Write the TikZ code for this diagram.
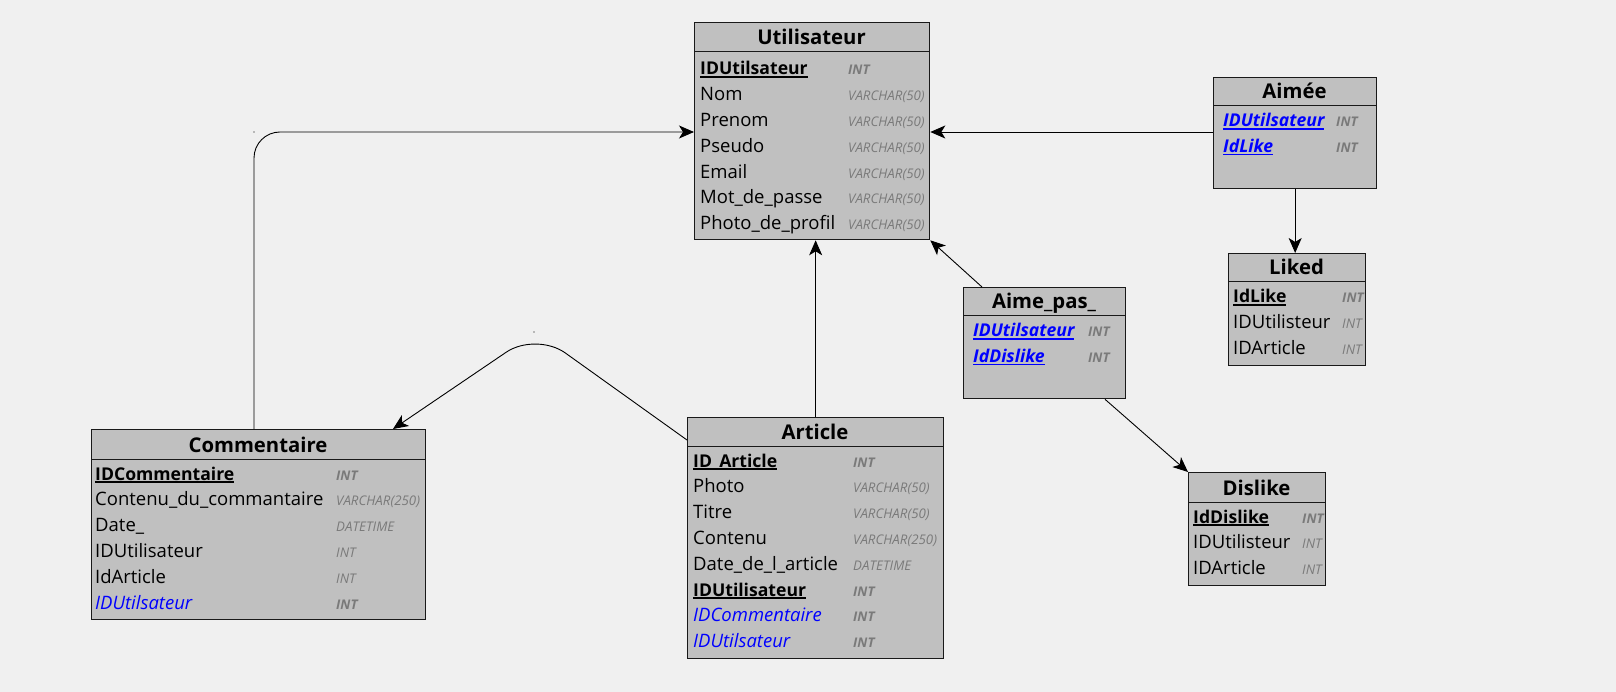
\documentclass[tikz,border=0pt]{standalone}
\usepackage{fontspec}
\setmainfont{Open Sans}
\usetikzlibrary{arrows.meta}
\definecolor{bgc}{HTML}{F0F0F0}
\definecolor{boxfill}{HTML}{C0C0C0}
\definecolor{typegray}{HTML}{7A7A7A}
\definecolor{fkblue}{HTML}{0000FF}
\newcommand\pkul[1]{\setbox0\hbox{#1}\rlap{\rule[-2.6pt]{\wd0}{1.4pt}}\box0}
\newcommand\keyfont{\fontsize{17.6}{22}\selectfont\bfseries}
\newcommand\fieldrow[6]{%
  \node[fld] (#1) at (#2,#3) {#5};
  \node[typ] (#1t) at (#4,#3) {#6};}
\tikzset{
  tbl/.style={draw=black!90, line width=1.3pt, fill=boxfill, anchor=north west, inner sep=0pt},
  hdr/.style={draw=black!90, line width=1pt},
  ttl/.style={font=\fontsize{20.3}{24}\selectfont\bfseries, anchor=base, inner sep=0pt, text=black},
  fld/.style={font=\fontsize{18.5}{22}\selectfont, anchor=base west, inner sep=0pt, text=black},
  typ/.style={font=\fontsize{13.3}{15}\selectfont\itshape, anchor=base west, inner sep=0pt, text=typegray},
  conn/.style={draw=black, line width=0.9pt, -{Stealth[length=15pt,width=13pt,inset=4pt]}},
  ctrl/.style={fill=black, inner sep=0pt, minimum size=1.2pt, circle}
}
\begin{document}
\begin{tikzpicture}[x=1pt,y=-1pt]
\fill[bgc] (0,0) rectangle (1616,692);
\useasboundingbox (0,0) rectangle (1616,692);

% ---------- Utilisateur
\node[tbl, minimum width=235pt, minimum height=217pt] (util) at (694,22) {};
\draw[hdr] ([yshift=-30pt]util.north west) -- ([yshift=-30pt]util.north east);
\node[ttl] (utilT) at (811.5,45) {Utilisateur};
\fieldrow{u1}{700}{75}{848}{\keyfont\pkul{IDUtilsateur}}{\bfseries INT}
\fieldrow{u2}{700}{100.8}{848}{Nom}{VARCHAR(50)}
\fieldrow{u3}{700}{126.6}{848}{Prenom}{VARCHAR(50)}
\fieldrow{u4}{700}{152.4}{848}{Pseudo}{VARCHAR(50)}
\fieldrow{u5}{700}{178.2}{848}{Email}{VARCHAR(50)}
\fieldrow{u6}{700}{204}{848}{Mot\_de\_passe}{VARCHAR(50)}
\fieldrow{u7}{700}{229.8}{848}{Photo\_de\_profil}{VARCHAR(50)}

% ---------- Aimée
\node[tbl, minimum width=163pt, minimum height=111pt] (aimee) at (1213,77) {};
\draw[hdr] ([yshift=-29pt]aimee.north west) -- ([yshift=-29pt]aimee.north east);
\node[ttl] (aimeeT) at (1294.5,99) {Aimée};
\fieldrow{a1}{1223}{127}{1336}{\color{fkblue}\keyfont\itshape\pkul{IDUtilsateur}}{\bfseries INT}
\fieldrow{a2}{1223}{152.8}{1336}{\color{fkblue}\keyfont\itshape\pkul{IdLike}}{\bfseries INT}

% ---------- Liked
\node[tbl, minimum width=137pt, minimum height=112pt] (liked) at (1228,253) {};
\draw[hdr] ([yshift=-29pt]liked.north west) -- ([yshift=-29pt]liked.north east);
\node[ttl] (likedT) at (1296.5,275) {Liked};
\fieldrow{l1}{1233}{303}{1342}{\keyfont\pkul{IdLike}}{\bfseries INT}
\fieldrow{l2}{1233}{328.8}{1342}{IDUtilisteur}{INT}
\fieldrow{l3}{1233}{354.6}{1342}{IDArticle}{INT}

% ---------- Aime_pas_
\node[tbl, minimum width=162pt, minimum height=111pt] (aimepas) at (963,287) {};
\draw[hdr] ([yshift=-29pt]aimepas.north west) -- ([yshift=-29pt]aimepas.north east);
\node[ttl] (aimepasT) at (1044,309) {Aime\_pas\_};
\fieldrow{p1}{973}{337}{1088}{\color{fkblue}\keyfont\itshape\pkul{IDUtilsateur}}{\bfseries INT}
\fieldrow{p2}{973}{362.8}{1088}{\color{fkblue}\keyfont\itshape\pkul{IdDislike}}{\bfseries INT}

% ---------- Dislike
\node[tbl, minimum width=137pt, minimum height=113pt] (dislike) at (1188,472) {};
\draw[hdr] ([yshift=-30pt]dislike.north west) -- ([yshift=-30pt]dislike.north east);
\node[ttl] (dislikeT) at (1256.5,495) {Dislike};
\fieldrow{d1}{1193}{523}{1302}{\keyfont\pkul{IdDislike}}{\bfseries INT}
\fieldrow{d2}{1193}{548.8}{1302}{IDUtilisteur}{INT}
\fieldrow{d3}{1193}{574.6}{1302}{IDArticle}{INT}

% ---------- Commentaire
\node[tbl, minimum width=334pt, minimum height=190pt] (comm) at (91,429) {};
\draw[hdr] ([yshift=-30pt]comm.north west) -- ([yshift=-30pt]comm.north east);
\node[ttl] (commT) at (258,452) {Commentaire};
\fieldrow{c1}{95}{480}{336}{\keyfont\pkul{IDCommentaire}}{\bfseries INT}
\fieldrow{c2}{95}{505.8}{336}{Contenu\_du\_commantaire}{VARCHAR(250)}
\fieldrow{c3}{95}{531.6}{336}{Date\_}{DATETIME}
\fieldrow{c4}{95}{557.4}{336}{IDUtilisateur}{INT}
\fieldrow{c5}{95}{583.2}{336}{IdArticle}{INT}
\fieldrow{c6}{95}{609}{336}{\color{fkblue}\itshape IDUtilsateur}{\bfseries INT}

% ---------- Article
\node[tbl, minimum width=256pt, minimum height=241pt] (art) at (687,417) {};
\draw[hdr] ([yshift=-29pt]art.north west) -- ([yshift=-29pt]art.north east);
\node[ttl] (artT) at (815,439) {Article};
\fieldrow{r1}{693}{467}{853}{\keyfont\pkul{ID\_Article}}{\bfseries INT}
\fieldrow{r2}{693}{492.8}{853}{Photo}{VARCHAR(50)}
\fieldrow{r3}{693}{518.6}{853}{Titre}{VARCHAR(50)}
\fieldrow{r4}{693}{544.4}{853}{Contenu}{VARCHAR(250)}
\fieldrow{r5}{693}{570.2}{853}{Date\_de\_l\_article}{DATETIME}
\fieldrow{r6}{693}{596}{853}{\keyfont\pkul{IDUtilisateur}}{\bfseries INT}
\fieldrow{r7}{693}{621.8}{853}{\color{fkblue}\itshape IDCommentaire}{\bfseries INT}
\fieldrow{r8}{693}{647.6}{853}{\color{fkblue}\itshape IDUtilsateur}{\bfseries INT}

% ---------- connectors
\coordinate (k1) at (254,132);
\coordinate (k2) at (536,332);
\coordinate (e2) at (0,440);
\coordinate (e3) at (393,0);
\coordinate (e5) at (982,0);
\coordinate (e6) at (1105,0);
\node[ctrl] (dot1) at (k1) {};
\node[ctrl] (dot2) at (534,332) {};

\draw[conn, rounded corners=26pt] (k1 |- comm.north) -- (k1) -- (k1 -| util.west);
\draw[conn, rounded corners=36pt] (e2 -| art.west) -- (k2) -- (e3 |- comm.north);
\draw[conn] (art.north) -- (art.north |- util.south);
\draw[conn] (aimee.west |- k1) -- (util.east |- k1);
\draw[conn] (e5 |- aimepas.north) -- (util.south east);
\draw[conn] (e6 |- aimepas.south) -- (dislike.north west);
\draw[conn] (aimee.south) -- (aimee.south |- liked.north);
\end{tikzpicture}
\end{document}
